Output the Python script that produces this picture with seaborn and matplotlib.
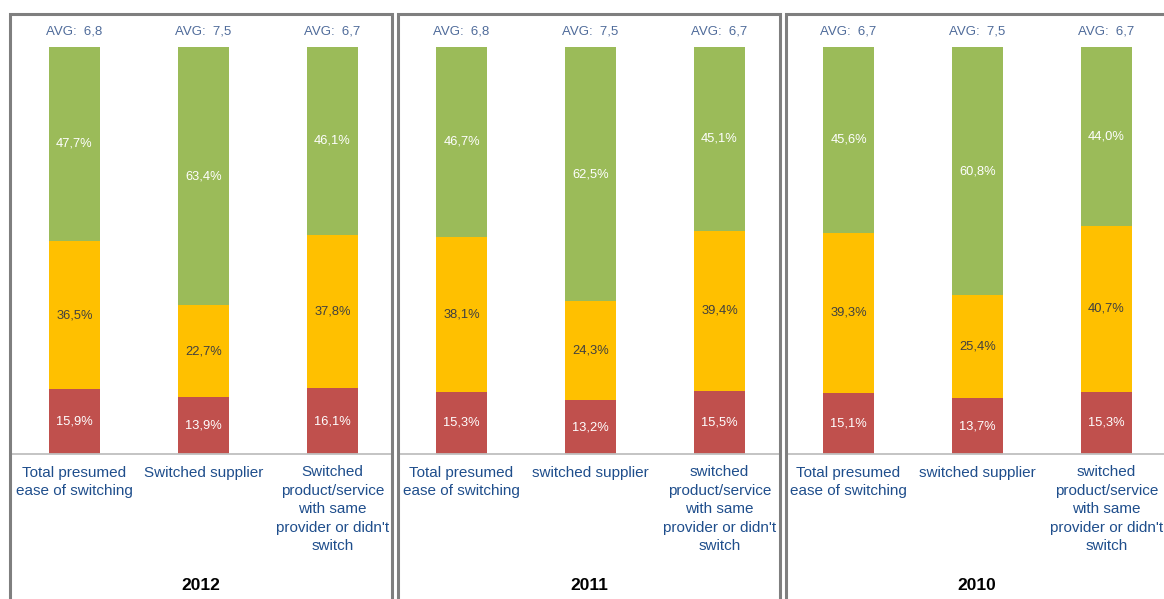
import matplotlib
matplotlib.use("Agg")
import matplotlib.pyplot as plt
import matplotlib.transforms as mtransforms
from matplotlib.patches import Rectangle
from matplotlib.lines import Line2D
import pandas as pd
import seaborn as sns

# ---- data -------------------------------------------------------------
years = ["2012", "2011", "2010"]

categories_2012 = ["Total presumed\nease of switching",
                   "Switched supplier",
                   "Switched\nproduct/service\nwith same\nprovider or didn't\nswitch"]
categories_2011 = ["Total presumed\nease of switching",
                   "switched supplier",
                   "switched\nproduct/service\nwith same\nprovider or didn't\nswitch"]
categories_2010 = list(categories_2011)

red_2012 = [15.9, 13.9, 16.1]
yellow_2012 = [36.5, 22.7, 37.8]
green_2012 = [47.7, 63.4, 46.1]
avg_2012 = [6.8, 7.5, 6.7]

red_2011 = [15.3, 13.2, 15.5]
yellow_2011 = [38.1, 24.3, 39.4]
green_2011 = [46.7, 62.5, 45.1]
avg_2011 = [6.8, 7.5, 6.7]

red_2010 = [15.1, 13.7, 15.3]
yellow_2010 = [39.3, 25.4, 40.7]
green_2010 = [45.6, 60.8, 44.0]
avg_2010 = [6.7, 7.5, 6.7]

panels = [
    (years[0], categories_2012, red_2012, yellow_2012, green_2012, avg_2012),
    (years[1], categories_2011, red_2011, yellow_2011, green_2011, avg_2011),
    (years[2], categories_2010, red_2010, yellow_2010, green_2010, avg_2010),
]

# ---- style ------------------------------------------------------------
sns.set_theme(style="white")
plt.rcParams["font.family"] = ["Liberation Sans", "DejaVu Sans"]

C_RED = "#C0504D"
C_YELLOW = "#FFC000"
C_GREEN = "#9BBB59"
C_CAT = "#1F4E8C"
C_AVG = "#4F6B9A"
C_FRAME = "#7F7F7F"
C_BASE = "#BFBFBF"

W, H = 1164, 599
fig = plt.figure(figsize=(W / 100, H / 100), dpi=100)


def fx(px):
    return px / W


def fy(py):
    return 1 - py / H


def pct(v):
    return f"{v:.1f}".replace(".", ",") + "%"


slot = 129          # pixel distance between bar centres
bar_w = 51 / slot   # bar width in category units
first_centre = [74.5, 461.5, 848.5]
frame_left = [10, 398, 786]
frame_w = 382
y_top, y_base = 47, 454

for i, (year, cats, red, yellow, green, avg) in enumerate(panels):
    left_px = first_centre[i] - slot / 2
    ax = fig.add_axes([fx(left_px), fy(y_base), fx(3 * slot), (y_base - y_top) / H])

    df = pd.DataFrame({"cat": cats, "red": red, "yellow": yellow, "green": green})
    df["low"] = df["red"]
    df["mid"] = df["red"] + df["yellow"]
    df["top"] = df["mid"] + df["green"]

    # stacked look: draw cumulative layers back to front
    for col, colour in [("top", C_GREEN), ("mid", C_YELLOW), ("low", C_RED)]:
        sns.barplot(data=df, x="cat", y=col, order=cats, color=colour,
                    saturation=1, width=bar_w, errorbar=None, ax=ax,
                    linewidth=0)

    ax.set_xlim(-0.5, 2.5)
    ax.set_ylim(0, 100)
    ax.set_axis_off()

    for j in range(3):
        r, yv, g = red[j], yellow[j], green[j]
        ax.text(j, r / 2, pct(r), ha="center", va="center",
                color="white", fontsize=9.3)
        ax.text(j, r + yv / 2, pct(yv), ha="center", va="center",
                color="#404040", fontsize=9.3)
        ax.text(j, r + yv + g / 2, pct(g), ha="center", va="center",
                color="white", fontsize=9.3)

    tr = mtransforms.blended_transform_factory(ax.transData, fig.transFigure)
    for j, (c, a) in enumerate(zip(cats, avg)):
        ax.text(j, fy(32), "AVG:  " + f"{a:.1f}".replace(".", ","),
                transform=tr, ha="center", va="center", color=C_AVG,
                fontsize=9.5, clip_on=False)
        ax.text(j, fy(465.5), c, transform=tr, ha="center", va="top",
                color=C_CAT, fontsize=11, linespacing=1.4, clip_on=False)

    # panel frame, baseline and year caption
    fl = frame_left[i]
    fig.add_artist(Line2D([fx(fl), fx(fl + frame_w)], [fy(y_base), fy(y_base)],
                          color=C_BASE, linewidth=1.3, zorder=5))
    fig.add_artist(Rectangle((fx(fl), fy(H + 20)), fx(frame_w), (H + 20 - 14) / H,
                             fill=False, edgecolor=C_FRAME, linewidth=2.2,
                             zorder=10))
    fig.text(fx(fl + frame_w / 2), fy(586), year, ha="center", va="center",
             fontsize=12.5, fontweight="bold", color="black")

fig.savefig("out.png", dpi=100)
